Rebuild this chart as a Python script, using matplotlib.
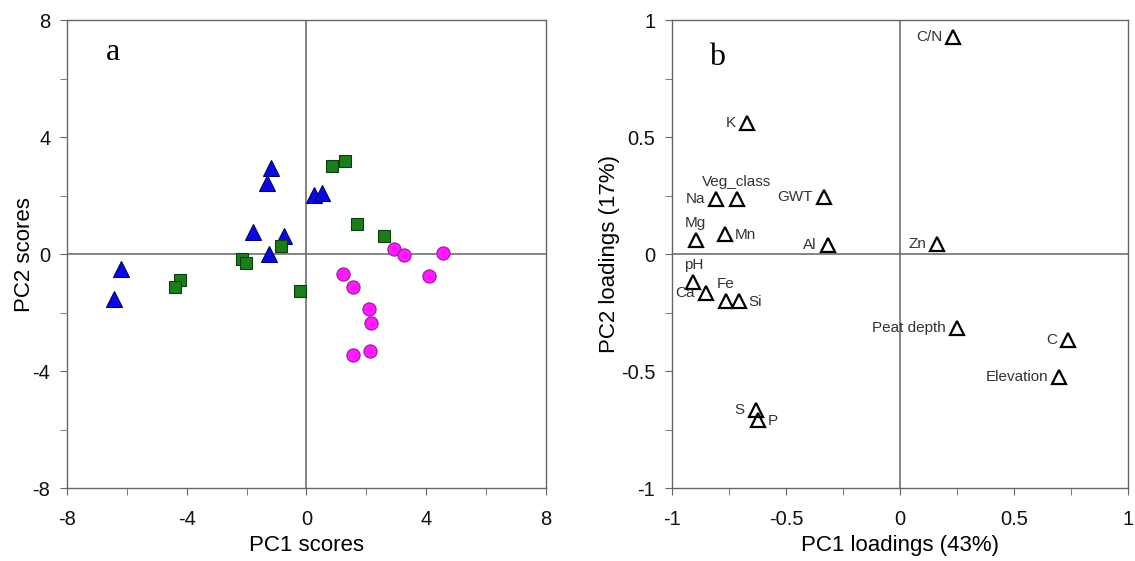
import numpy as np
import matplotlib.pyplot as plt
from matplotlib.ticker import MultipleLocator

plt.rcParams['font.family'] = ['Liberation Sans', 'DejaVu Sans']
plt.rcParams['axes.unicode_minus'] = False

# panel a: PC scores by group
tri_x = [-6.43, -6.19, -1.19, -1.32, -1.77, -0.74, -1.24, 0.26, 0.53]
tri_y = [-1.54, -0.52, 2.93, 2.42, 0.75, 0.61, 0.02, 2.03, 2.09]
sq_x = [-4.23, -4.38, -2.15, -2.02, -0.85, -0.20, 0.84, 1.29, 1.69, 2.58]
sq_y = [-0.88, -1.14, -0.15, -0.29, 0.27, -1.27, 3.03, 3.20, 1.02, 0.62]
ci_x = [2.92, 3.26, 4.56, 4.09, 1.22, 1.56, 2.09, 2.14, 2.13, 1.56]
ci_y = [0.19, -0.02, 0.03, -0.74, -0.68, -1.13, -1.86, -2.37, -3.30, -3.45]

# panel b: loadings
var_names = ['K', 'Na', 'Veg_class', 'GWT', 'Mg', 'Mn', 'Al', 'pH', 'Ca', 'Fe', 'Si',
             'S', 'P', 'C/N', 'Zn', 'Peat depth', 'C', 'Elevation']
load_x = [-0.672, -0.807, -0.716, -0.335, -0.895, -0.767, -0.316, -0.906, -0.852,
          -0.764, -0.706, -0.633, -0.622, 0.234, 0.164, 0.249, 0.736, 0.697]
load_y = [0.56, 0.237, 0.237, 0.243, 0.06, 0.087, 0.039, -0.117, -0.166,
          -0.20, -0.20, -0.665, -0.707, 0.93, 0.045, -0.317, -0.366, -0.526]
label_side = {'Veg_class': 'above', 'Mg': 'above', 'pH': 'above', 'Fe': 'above',
              'Mn': 'right', 'Si': 'right', 'P': 'right'}

fig = plt.figure(figsize=(11.35, 5.61), dpi=100)
ax1 = fig.add_axes([0.059, 0.13, 0.422, 0.834])
ax2 = fig.add_axes([0.592, 0.13, 0.402, 0.834])

for ax in (ax1, ax2):
    ax.axhline(0, color='#707070', lw=1.2, zorder=1)
    ax.axvline(0, color='#707070', lw=1.2, zorder=1)
    for s in ax.spines.values():
        s.set_color('#666666')
        s.set_linewidth(1.0)
    ax.tick_params(which='both', direction='out', colors='#666666',
                   labelcolor='#111111', labelsize=14.5, length=5, pad=7)
    ax.tick_params(axis='x', which='both', pad=11)

ax1.plot(tri_x, tri_y, '^', color='#0a0ae0', mec='#00006a', mew=0.8, ms=11, zorder=3)
ax1.plot(sq_x, sq_y, 's', color='#1b7d1b', mec='#0b3d0b', mew=0.8, ms=8.5, zorder=3)
ax1.plot(ci_x, ci_y, 'o', color='#ff1aff', mec='#9a1a9a', mew=0.8, ms=9.5, zorder=3)
ax1.set_xlim(-8, 8)
ax1.set_ylim(-8, 8)
ax1.xaxis.set_major_locator(MultipleLocator(4))
ax1.yaxis.set_major_locator(MultipleLocator(4))
ax1.xaxis.set_minor_locator(MultipleLocator(2))
ax1.yaxis.set_minor_locator(MultipleLocator(2))
ax1.set_xlabel('PC1 scores', fontsize=16, labelpad=4)
ax1.set_ylabel('PC2 scores', fontsize=16, labelpad=-2)
ax1.text(0.096, 0.93, 'a', transform=ax1.transAxes, family='Liberation Serif',
         fontsize=23, va='center', ha='center')

ax2.plot(load_x, load_y, '^', mfc='none', mec='black', mew=1.6, ms=10, zorder=3)
for name, x, y in zip(var_names, load_x, load_y):
    side = label_side.get(name, 'left')
    if side == 'left':
        ax2.annotate(name, (x, y), xytext=(-8, 0), textcoords='offset points',
                     ha='right', va='center', fontsize=11, color='#333333')
    elif side == 'right':
        ax2.annotate(name, (x, y), xytext=(7, -1), textcoords='offset points',
                     ha='left', va='center', fontsize=11, color='#333333')
    else:
        ax2.annotate(name, (x, y), xytext=(0, 7), textcoords='offset points',
                     ha='center', va='bottom', fontsize=11, color='#333333')
ax2.set_xlim(-1, 1)
ax2.set_ylim(-1, 1)
ax2.xaxis.set_major_locator(MultipleLocator(0.5))
ax2.yaxis.set_major_locator(MultipleLocator(0.5))
ax2.xaxis.set_minor_locator(MultipleLocator(0.25))
ax2.yaxis.set_minor_locator(MultipleLocator(0.25))
ax2.xaxis.set_major_formatter(plt.FuncFormatter(lambda v, p: f'{v:g}'))
ax2.yaxis.set_major_formatter(plt.FuncFormatter(lambda v, p: f'{v:g}'))
ax2.set_xlabel('PC1 loadings (43%)', fontsize=16, labelpad=4)
ax2.set_ylabel('PC2 loadings (17%)', fontsize=16, labelpad=0.5)
ax2.text(0.099, 0.92, 'b', transform=ax2.transAxes, family='Liberation Serif',
         fontsize=23, va='center', ha='center')

fig.savefig('out.png', dpi=100)
